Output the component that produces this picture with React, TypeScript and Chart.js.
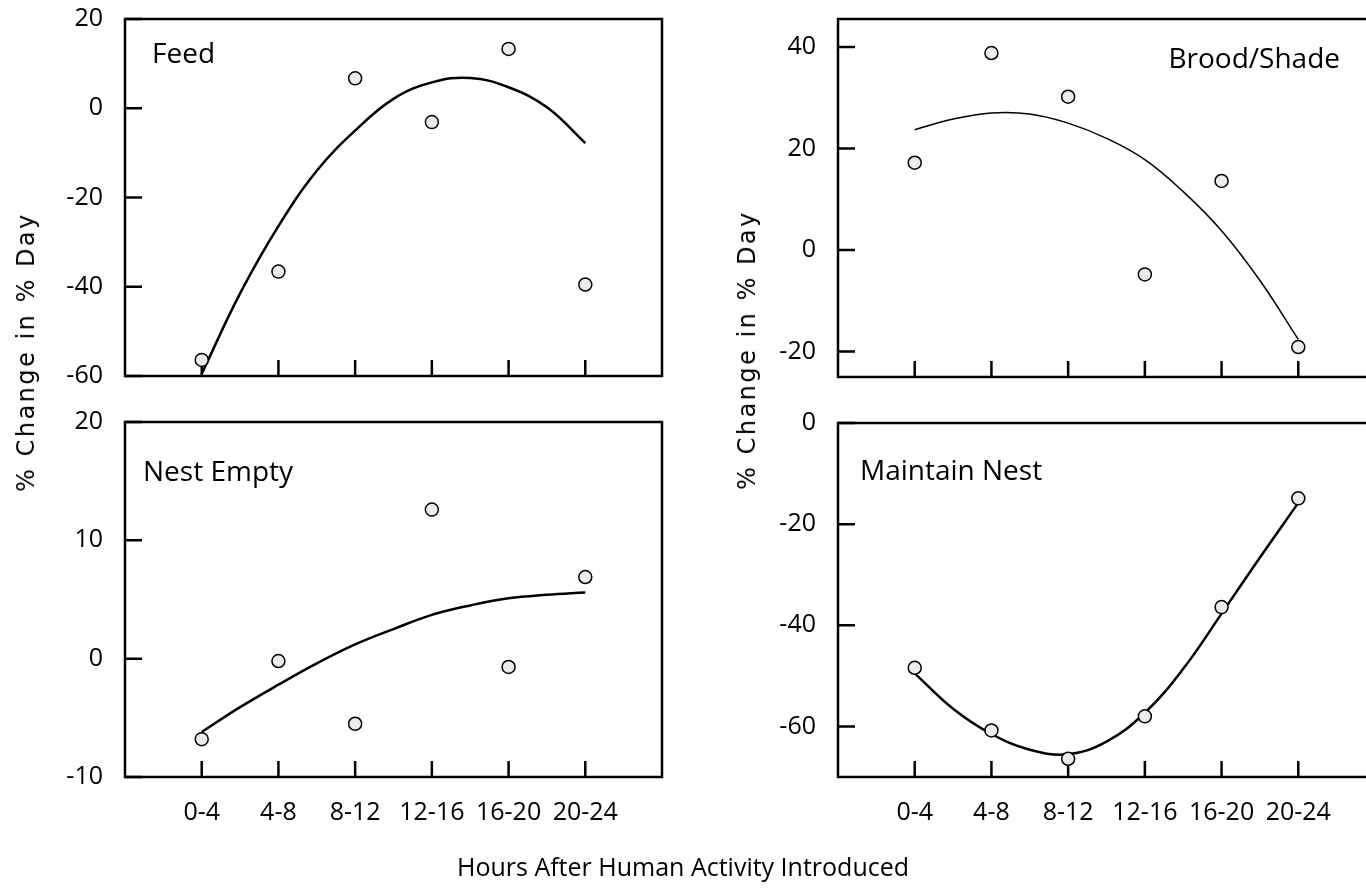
import React, { useEffect, useRef } from 'react';
import { Chart, registerables } from 'chart.js';

Chart.register(...registerables);

// ---- data ----
const categories = ['0-4', '4-8', '8-12', '12-16', '16-20', '20-24'];
const categoryPos = [0, 1, 2, 3, 4, 5];
const fitPos = [0, 0.5, 1, 1.5, 2, 2.5, 3, 3.5, 4, 4.5, 5];

const feedValues = [-56.4, -36.6, 6.7, -3.1, 13.3, -39.5];
const feedFit = [-59.5, -41.5, -26.4, -14.0, -5.0, 2.1, 5.8, 6.8, 4.7, 0.2, -7.8];
const feedTicks = [-60, -40, -20, 0, 20];

const broodValues = [17.2, 38.8, 30.2, -4.8, 13.6, -19.1];
const broodFit = [23.7, 25.8, 27.0, 26.8, 25.0, 22.0, 17.8, 11.5, 3.8, -6.0, -17.6];
const broodTicks = [-20, 0, 20, 40];

const nestEmptyValues = [-6.8, -0.2, -5.5, 12.6, -0.7, 6.9];
const nestEmptyFit = [-6.2, -4.1, -2.2, -0.4, 1.2, 2.5, 3.7, 4.5, 5.1, 5.4, 5.6];
const nestEmptyTicks = [-10, 0, 10, 20];

const maintainValues = [-48.4, -60.8, -66.4, -58.0, -36.4, -14.9];
const maintainFit = [-49.5, -56.5, -61.5, -64.6, -65.5, -63.0, -57.3, -48.6, -37.7, -26.6, -15.8];
const maintainTicks = [-60, -40, -20, 0];

const yTitle = '% Change in % Day';
const xTitle = 'Hours After Human Activity Introduced';

const TICK_FONT = { family: "'Open Sans', 'DejaVu Sans', sans-serif", size: 25 };

const panelPlugin = {
  id: 'panelBox',
  beforeDatasetsDraw(chart: any, _args: any, opts: any) {
    const { ctx, chartArea: a, scales } = chart;
    ctx.save();
    ctx.strokeStyle = '#000';
    ctx.lineWidth = 2.5;
    ctx.strokeRect(a.left, a.top, a.right - a.left, a.bottom - a.top);
    ctx.beginPath();
    scales.x.ticks.forEach((t: any) => {
      const px = scales.x.getPixelForValue(t.value);
      ctx.moveTo(px, a.bottom);
      ctx.lineTo(px, a.bottom - 16);
    });
    scales.y.ticks.forEach((t: any) => {
      const py = scales.y.getPixelForValue(t.value);
      ctx.moveTo(a.left, py);
      ctx.lineTo(a.left + 17, py);
    });
    ctx.stroke();
    ctx.fillStyle = '#000';
    ctx.font = "28px 'Open Sans', 'DejaVu Sans', sans-serif";
    ctx.textBaseline = 'alphabetic';
    ctx.textAlign = opts.align;
    ctx.fillText(opts.text, a.left + opts.dx, a.top + opts.dy);
    ctx.restore();
  },
};

type PanelProps = {
  values: number[];
  fit: number[];
  yMin: number;
  yMax: number;
  yTicks: number[];
  showX: boolean;
  title: string;
  align: string;
  dx: number;
  dy: number;
  lineWidth: number;
  left: number;
  top: number;
  width: number;
  height: number;
  yAxisWidth: number;
  xAxisHeight: number;
  padTop: number;
  padRight: number;
};

function Panel(p: PanelProps) {
  const ref = useRef<HTMLCanvasElement>(null);
  useEffect(() => {
    if (!ref.current) return;
    const chart = new Chart(ref.current, {
      type: 'scatter',
      data: {
        datasets: [
          {
            data: fitPos.map((x, i) => ({ x, y: p.fit[i] })),
            showLine: true,
            borderColor: '#000',
            borderWidth: p.lineWidth,
            pointRadius: 0,
            tension: 0.4,
            fill: false,
            clip: false,
            order: 2,
          } as any,
          {
            data: categoryPos.map((x, i) => ({ x, y: p.values[i] })),
            pointRadius: 6.5,
            pointBorderWidth: 1.5,
            pointBorderColor: '#000',
            pointBackgroundColor: '#ececec',
            clip: false,
            order: 1,
          } as any,
        ],
      },
      options: {
        responsive: false,
        maintainAspectRatio: false,
        animation: false,
        events: [],
        layout: { padding: { top: p.padTop, right: p.padRight, left: 0, bottom: 0 } },
        plugins: {
          legend: { display: false },
          tooltip: { enabled: false },
          panelBox: { text: p.title, align: p.align, dx: p.dx, dy: p.dy },
        } as any,
        scales: {
          x: {
            type: 'linear',
            min: -1,
            max: 6,
            grid: { display: false, drawTicks: false, tickLength: 0 },
            border: { display: false },
            afterBuildTicks: (s: any) => {
              s.ticks = categoryPos.map((v) => ({ value: v }));
            },
            afterFit: (s: any) => {
              s.height = p.xAxisHeight;
              s.paddingLeft = 0;
              s.paddingRight = 0;
              s.paddingTop = 0;
              s.paddingBottom = 0;
            },
            ticks: {
              display: p.showX,
              autoSkip: false,
              maxRotation: 0,
              minRotation: 0,
              padding: 21,
              color: '#000',
              font: TICK_FONT,
              callback: (v: any) => categories[v] ?? '',
            },
          },
          y: {
            type: 'linear',
            min: p.yMin,
            max: p.yMax,
            grid: { display: false, drawTicks: false, tickLength: 0 },
            border: { display: false },
            afterBuildTicks: (s: any) => {
              s.ticks = p.yTicks.map((v) => ({ value: v }));
            },
            afterFit: (s: any) => {
              s.width = p.yAxisWidth;
              s.paddingTop = 0;
              s.paddingBottom = 0;
              s.paddingLeft = 0;
              s.paddingRight = 0;
            },
            ticks: {
              padding: 22,
              color: '#000',
              font: TICK_FONT,
            },
          },
        } as any,
      },
      plugins: [panelPlugin],
    });
    return () => chart.destroy();
  }, []);
  return (
    <canvas
      ref={ref}
      width={p.width}
      height={p.height}
      style={{ position: 'absolute', left: p.left, top: p.top, width: p.width, height: p.height }}
    />
  );
}

const yTitleStyle = (cx: number, cy: number): React.CSSProperties => ({
  position: 'absolute',
  left: cx,
  top: cy,
  transform: 'translate(-50%, -50%) rotate(-90deg)',
  whiteSpace: 'nowrap',
  fontFamily: "'DejaVu Sans', sans-serif",
  fontSize: 24,
  letterSpacing: '2.5px',
  color: '#000',
  lineHeight: 1,
});

export default function App() {
  return (
    <div
      style={{
        position: 'absolute',
        left: 0,
        top: 0,
        width: 1366,
        height: 893,
        overflow: 'hidden',
        background: '#fff',
      }}
    >
      <Panel
        values={feedValues} fit={feedFit} yMin={-60} yMax={20} yTicks={feedTicks}
        showX={false} title="Feed" align="left" dx={27} dy={44} lineWidth={2.5}
        left={0} top={0} width={680} height={400} yAxisWidth={125} xAxisHeight={24}
        padTop={19} padRight={18}
      />
      <Panel
        values={broodValues} fit={broodFit} yMin={-25} yMax={45.5} yTicks={broodTicks}
        showX={false} title="Brood/Shade" align="right" dx={502} dy={49} lineWidth={1.5}
        left={700} top={0} width={690} height={400} yAxisWidth={138} xAxisHeight={23}
        padTop={19} padRight={15}
      />
      <Panel
        values={nestEmptyValues} fit={nestEmptyFit} yMin={-10} yMax={20} yTicks={nestEmptyTicks}
        showX={true} title="Nest Empty" align="left" dx={18} dy={59} lineWidth={2.5}
        left={0} top={400} width={680} height={493} yAxisWidth={125} xAxisHeight={116}
        padTop={22} padRight={18}
      />
      <Panel
        values={maintainValues} fit={maintainFit} yMin={-70} yMax={0} yTicks={maintainTicks}
        showX={true} title="Maintain Nest" align="left" dx={22} dy={57} lineWidth={2.5}
        left={700} top={400} width={690} height={493} yAxisWidth={138} xAxisHeight={116}
        padTop={23} padRight={15}
      />
      <div style={yTitleStyle(26, 352)}>{yTitle}</div>
      <div style={yTitleStyle(747, 350)}>{yTitle}</div>
      <div
        style={{
          position: 'absolute',
          left: 683,
          top: 866,
          transform: 'translate(-50%, -50%)',
          whiteSpace: 'nowrap',
          fontFamily: "'Open Sans', sans-serif",
          fontSize: 25,
          color: '#000',
          lineHeight: 1,
        }}
      >
        {xTitle}
      </div>
    </div>
  );
}
